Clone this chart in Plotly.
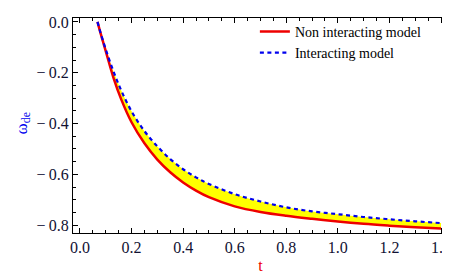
import plotly.graph_objects as go

t = [0.068, 0.08, 0.10, 0.13, 0.16, 0.20, 0.25, 0.30, 0.35, 0.40, 0.45, 0.50,
     0.60, 0.70, 0.80, 0.90, 1.00, 1.10, 1.20, 1.30, 1.40]
w_non_interacting = [0.0, -0.045, -0.115, -0.22, -0.305, -0.395, -0.478, -0.542, -0.592,
                     -0.632, -0.664, -0.69, -0.726, -0.748, -0.763, -0.775, -0.786,
                     -0.795, -0.802, -0.808, -0.813]
w_interacting = [0.0, -0.043, -0.108, -0.195, -0.27, -0.352, -0.43, -0.49, -0.54,
                 -0.58, -0.612, -0.638, -0.678, -0.707, -0.730, -0.746, -0.757,
                 -0.768, -0.777, -0.785, -0.792]

x_ticks = [0.0, 0.2, 0.4, 0.6, 0.8, 1.0, 1.2, 1.4]
y_ticks = [0.0, -0.2, -0.4, -0.6, -0.8]

SERIF = "Liberation Serif, serif"
RED = "#ee0000"
BLUE = "#0000ee"

fig = go.Figure()
# filled band between the two models (no legend entries)
fig.add_trace(go.Scatter(
    x=t, y=w_non_interacting, mode="lines", showlegend=False, hoverinfo="skip",
    line=dict(color="rgba(0,0,0,0)", width=0, shape="spline"),
))
fig.add_trace(go.Scatter(
    x=t, y=w_interacting, mode="lines", showlegend=False, hoverinfo="skip",
    line=dict(color="rgba(0,0,0,0)", width=0, shape="spline"),
    fill="tonexty", fillcolor="#ffff00",
))
# curves
fig.add_trace(go.Scatter(
    x=t, y=w_non_interacting, mode="lines", name="Non interacting model",
    line=dict(color=RED, width=2.5, shape="spline"),
))
fig.add_trace(go.Scatter(
    x=t, y=w_interacting, mode="lines", name="Interacting model",
    line=dict(color=BLUE, width=2.2, dash="4px,3.5px", shape="spline"),
))


def axis_style():
    return dict(
        showline=True, linecolor="black", linewidth=1, mirror="allticks",
        ticks="inside", ticklen=5, tickwidth=1, tickcolor="black",
        showgrid=False, zeroline=False,
        tickfont=dict(family=SERIF, size=16, color="#111133"),
        minor=dict(ticks="inside", ticklen=3, tickwidth=1, tickcolor="black",
                   dtick=0.05, showgrid=False),
    )


fig.update_layout(
    width=450, height=276,
    margin=dict(l=65, r=10, t=6, b=51),
    paper_bgcolor="white", plot_bgcolor="white",
    font=dict(family=SERIF, size=16, color="#111133"),
    showlegend=True,
    legend=dict(
        x=0.485, y=1.01, xanchor="left", yanchor="top", traceorder="normal",
        bgcolor="rgba(0,0,0,0)", borderwidth=0,
        font=dict(family=SERIF, size=14, color="black"),
        itemwidth=30,
    ),
    xaxis=dict(
        range=[-0.027, 1.427], tickvals=x_ticks, ticktext=[f"{v:.1f}" for v in x_ticks],
        title=dict(text="t", font=dict(family=SERIF, size=16, color=RED), standoff=4),
        **axis_style(),
    ),
    yaxis=dict(
        range=[-0.831, 0.0154], tickvals=y_ticks,
        ticktext=[("\u2212\u2009" + f"{abs(v):.1f}") if v < 0 else f"{v:.1f}" for v in y_ticks],
        **axis_style(),
    ),
    annotations=[dict(
        text="\u03c9<sub>de</sub>", xref="paper", yref="paper",
        x=-0.133, y=0.51, xanchor="center", yanchor="middle",
        textangle=-90, showarrow=False,
        font=dict(family=SERIF, size=17, color=BLUE),
    )],
)

fig.write_html("out.html")
